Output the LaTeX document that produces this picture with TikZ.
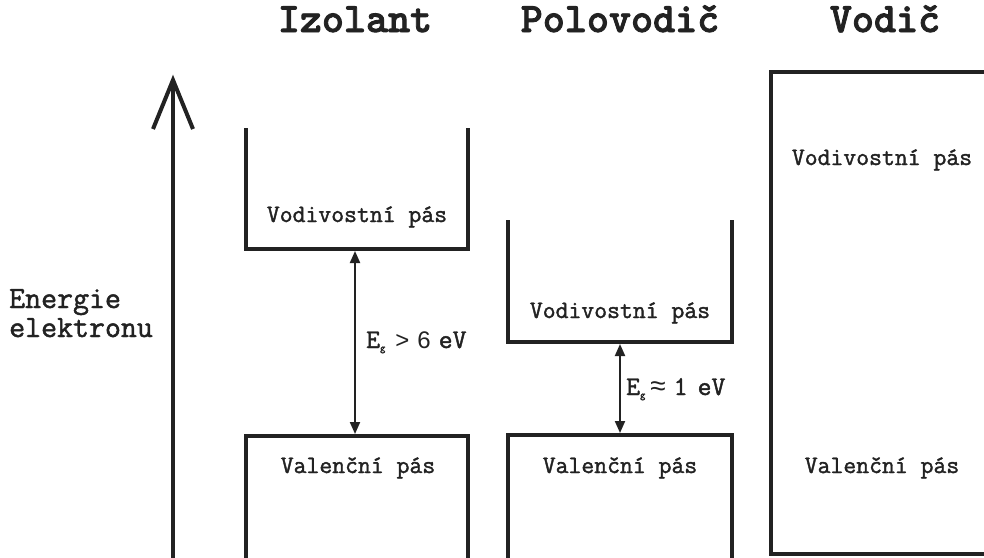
\documentclass[tikz,border=0pt]{standalone}
\usepackage{fontspec}
\setmainfont{Latin Modern Mono}[FakeBold=1.5]
\newfontfamily\titlefont{lmmonolt10-bold.otf}[FakeBold=2]
\newfontfamily\symfont{Liberation Sans}
\usetikzlibrary{arrows.meta}
\definecolor{ink}{HTML}{222222}
\newcommand{\subg}{\raisebox{-3pt}{\fontsize{10}{10}\selectfont g}}
\begin{document}
\begin{tikzpicture}[x=1pt,y=-1pt,
  band/.style={draw=ink, line width=3.5pt, line join=miter},
  axisline/.style={draw=ink, line width=4pt, line join=miter},
  gaparrow/.style={draw=ink, line width=2pt,
    {Triangle[length=12pt,width=10pt]}-{Triangle[length=12pt,width=10pt]}},
  lbl/.style={font=\fontsize{25}{28}\selectfont, text=ink, anchor=base, inner sep=0pt},
  gaplbl/.style={font=\fontsize{27}{28}\selectfont, text=ink, anchor=base west, inner sep=0pt},
  title/.style={font=\titlefont\fontsize{42}{44}\selectfont, text=ink, anchor=base, inner sep=0pt}]
\useasboundingbox[fill=white] (0,0) rectangle (984,557);

% column titles
\node[title] (tIzo) at (355,32) {Izolant};
\node[title] (tPol) at (620,32) {Polovodič};
\node[title] (tVod) at (885,32) {Vodič};

% energy axis
\coordinate (axB) at (173,562);
\coordinate (axT) at (173,80);
\draw[axisline] (axB) -- (axT);
\draw[axisline] (153,129) -- (axT) -- (193,129);
\node[font=\fontsize{31}{29}\selectfont, text=ink, anchor=base west, align=left, inner sep=0pt]
  (axlbl) at (9,337) {Energie\\elektronu};

% insulator bands
\draw[band] (246,128) -- (246,249) -- (468,249) -- (468,128);
\draw[band] (246,562) -- (246,436) -- (468,436) -- (468,562);
\node[lbl] (izC) at (357,222) {Vodivostní pás};
\node[lbl] (izV) at (358,473) {Valenční pás};
\coordinate (izGapT) at (355,251);
\coordinate (izGapB) at (355,434);
\draw[gaparrow] (izGapT) -- (izGapB);
\node[gaplbl] (izEg) at (366,348)
  {E\subg\hspace{10pt}{\symfont\fontsize{24}{26}\selectfont >\hspace{8pt}6}\hspace{8pt}eV};

% semiconductor bands
\draw[band] (508,220) -- (508,342) -- (732,342) -- (732,220);
\draw[band] (508,562) -- (508,435) -- (732,435) -- (732,562);
\node[lbl] (poC) at (620,318) {Vodivostní pás};
\node[lbl] (poV) at (620,473) {Valenční pás};
\coordinate (poGapT) at (620,344);
\coordinate (poGapB) at (620,433);
\draw[gaparrow] (poGapT) -- (poGapB);
\node[gaplbl] (poEg) at (626,395)
  {E\subg\hspace{5pt}{\symfont\fontsize{28}{28}\selectfont ≈}\hspace{8pt}1\hspace{10pt}eV};

% conductor band
\draw[band] (995,72) -- (771,72) -- (771,554) -- (995,554);
\node[lbl] (voC) at (882,165) {Vodivostní pás};
\node[lbl] (voV) at (882,473) {Valenční pás};
\end{tikzpicture}
\end{document}
